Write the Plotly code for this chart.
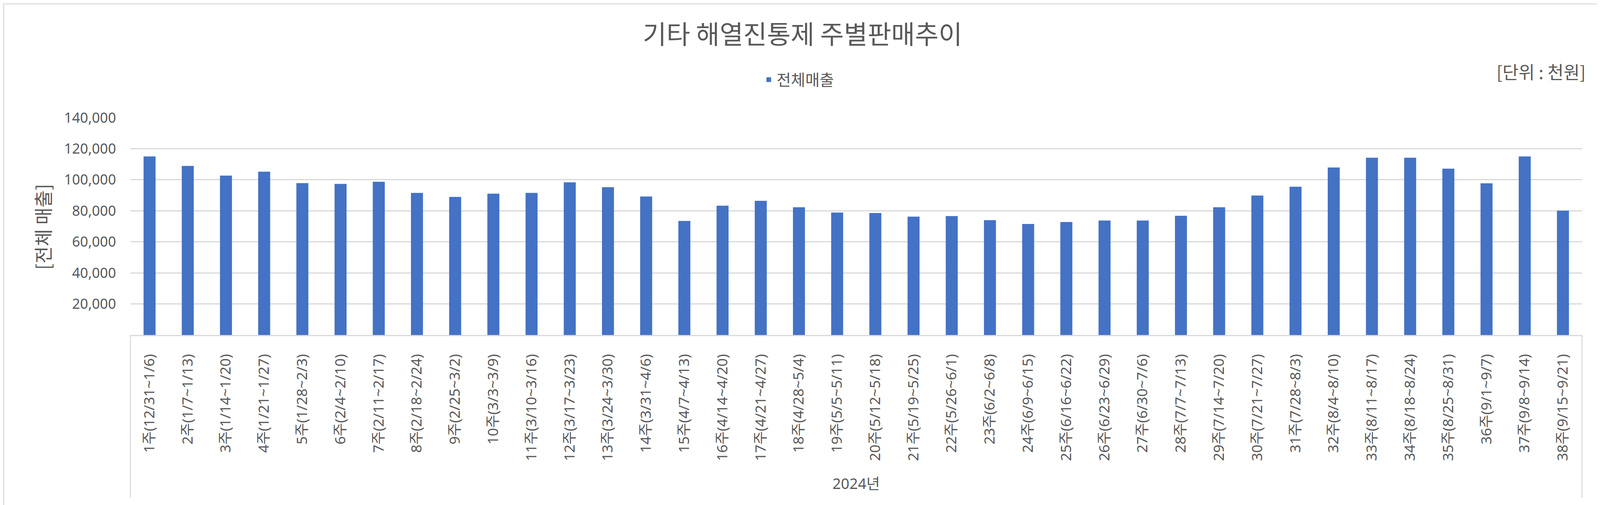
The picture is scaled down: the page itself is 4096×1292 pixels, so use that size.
import plotly.graph_objects as go

# ---------------- data ----------------
title_text = "기타 해열진통제 주별판매추이"
series_name = "전체매출"
unit_text = "[단위 : 천원]"
y_title = "[전체 매출]"
year_label = "2024년"

weeks = [
    "1주(12/31~1/6)", "2주(1/7~1/13)", "3주(1/14~1/20)", "4주(1/21~1/27)",
    "5주(1/28~2/3)", "6주(2/4~2/10)", "7주(2/11~2/17)", "8주(2/18~2/24)",
    "9주(2/25~3/2)", "10주(3/3~3/9)", "11주(3/10~3/16)", "12주(3/17~3/23)",
    "13주(3/24~3/30)", "14주(3/31~4/6)", "15주(4/7~4/13)", "16주(4/14~4/20)",
    "17주(4/21~4/27)", "18주(4/28~5/4)", "19주(5/5~5/11)", "20주(5/12~5/18)",
    "21주(5/19~5/25)", "22주(5/26~6/1)", "23주(6/2~6/8)", "24주(6/9~6/15)",
    "25주(6/16~6/22)", "26주(6/23~6/29)", "27주(6/30~7/6)", "28주(7/7~7/13)",
    "29주(7/14~7/20)", "30주(7/21~7/27)", "31주(7/28~8/3)", "32주(8/4~8/10)",
    "33주(8/11~8/17)", "34주(8/18~8/24)", "35주(8/25~8/31)", "36주(9/1~9/7)",
    "37주(9/8~9/14)", "38주(9/15~9/21)",
]

sales = [
    115000, 108900, 102700, 105200, 97800, 97300, 98700, 91500,
    88950, 91000, 91500, 98300, 95200, 89200, 73450, 83300,
    86400, 82300, 78900, 78550, 76260, 76600, 73960, 71500,
    72790, 73700, 73700, 76770, 82300, 89860, 95500, 107900,
    114200, 114200, 107160, 97700, 115000, 80100,
]

y_ticks = [20000, 40000, 60000, 80000, 100000, 120000, 140000]

# ---------------- layout geometry ----------------
S = 0.999
W, H = 4096, 1292
L = 326.5 * S
R_px = 4046 * S
T = 293 * S
B_px = 850 * S
PW = R_px - L
PH = B_px - T


def px(x):
    return (x * S - L) / PW


def py(y):
    return (B_px - y * S) / PH


TXT = "#595959"
GRID = "#d9d9d9"
CJK = "Noto Sans CJK KR"
MIX = "Noto Sans, Noto Sans CJK KR"

fig = go.Figure(
    go.Bar(
        x=weeks,
        y=sales,
        name=series_name,
        marker=dict(color="#4472C4", line=dict(width=0)),
        showlegend=True,
    )
)

fig.update_layout(
    width=W,
    height=H,
    margin=dict(l=L, r=W - R_px, t=T, b=H - B_px, pad=0),
    paper_bgcolor="white",
    plot_bgcolor="white",
    font=dict(family=CJK, color=TXT),
    bargap=0.686,
    title=dict(
        text=title_text,
        font=dict(family=CJK, size=66 * S, color=TXT),
        x=2047 / 4097,
        y=1 - 81 * S / H,
        xref="container",
        yref="container",
        xanchor="center",
        yanchor="middle",
    ),
    legend=dict(
        orientation="h",
        xref="container",
        yref="container",
        x=1942 * S / W,
        y=1 - 196 * S / H,
        xanchor="left",
        yanchor="middle",
        font=dict(family=CJK, size=40 * S, color=TXT),
        bgcolor="rgba(0,0,0,0)",
    ),
    xaxis=dict(
        type="category",
        range=[-0.5, len(weeks) - 0.5],
        tickangle=-90,
        tickfont=dict(family=MIX, size=37 * S, color=TXT),
        showline=True,
        linecolor=GRID,
        linewidth=2.7,
        ticks="",
        showgrid=False,
        ticklabelstandoff=31,
    ),
    yaxis=dict(
        range=[0, 140000],
        tickvals=y_ticks,
        tickformat=",",
        tickfont=dict(family="Noto Sans", size=36 * S, color=TXT),
        showgrid=True,
        gridcolor=GRID,
        gridwidth=2.7,
        zeroline=False,
        showline=False,
        ticks="",
        ticklabelstandoff=36,
    ),
    shapes=[
        dict(type="line", xref="paper", yref="paper", x0=0, x1=0, y0=0, y1=py(1267),
             line=dict(color=GRID, width=2.7)),
        dict(type="line", xref="paper", yref="paper", x0=1, x1=1, y0=0, y1=py(1267),
             line=dict(color=GRID, width=2.7)),
        dict(type="rect", xref="paper", yref="paper", x0=px(1.5), x1=px(4093), y0=py(1288), y1=py(1.5),
             line=dict(color=GRID, width=2.7), fillcolor="rgba(0,0,0,0)"),
    ],
    annotations=[
        dict(text=year_label, xref="paper", yref="paper", x=0.5, y=py(1230),
             xanchor="center", yanchor="middle", showarrow=False,
             font=dict(family=MIX, size=38 * S, color=TXT)),
        dict(text=unit_text, xref="paper", yref="paper", x=px(4057), y=py(174),
             xanchor="right", yanchor="middle", showarrow=False,
             font=dict(family=CJK, size=45 * S, color=TXT)),
        dict(text=y_title, xref="paper", yref="paper", x=px(101), y=py(573),
             xanchor="center", yanchor="middle", showarrow=False, textangle=-90,
             font=dict(family=CJK, size=48 * S, color=TXT)),
    ],
)

fig.write_html("out.html")
